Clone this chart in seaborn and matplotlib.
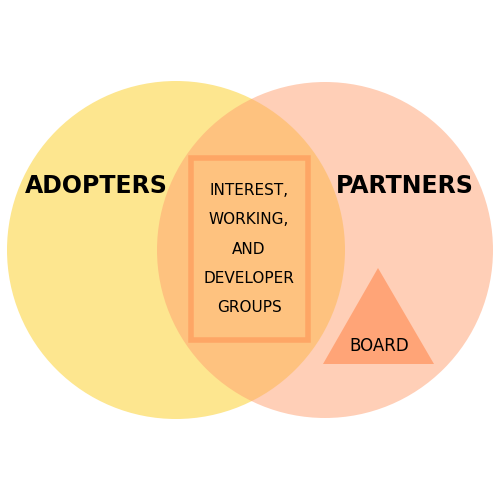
import matplotlib
matplotlib.use("Agg")
import matplotlib.pyplot as plt
import seaborn as sns
from matplotlib.patches import Circle, Rectangle, Polygon

sns.set_theme(style="white")
plt.rcParams['font.family'] = ['DejaVu Sans']

set_labels = ["ADOPTERS", "PARTNERS"]
overlap_label = "INTEREST,\nWORKING,\nAND\nDEVELOPER\nGROUPS"
inner_label = "BOARD"

fig = plt.figure(figsize=(5, 5), dpi=100)
ax = fig.add_axes([0, 0, 1, 1])
ax.set_xlim(0, 500); ax.set_ylim(500, 0); ax.axis('off')
fig.patch.set_facecolor('white')

ax.add_patch(Circle((176, 250), 169, facecolor='#fde68f', edgecolor='none', zorder=1))
ax.add_patch(Circle((325, 250), 168, facecolor='#ffa070', alpha=0.5, edgecolor='none', zorder=2))
ax.add_patch(Rectangle((191, 158), 117, 182, facecolor='none', edgecolor='#ff9f5f', lw=4, alpha=0.8, zorder=3))
ax.add_patch(Polygon([(378, 268), (323, 364), (434, 364)], facecolor='#ffa477', edgecolor='none', zorder=3))

ax.text(96, 186, set_labels[0], ha='center', va='center', fontsize=17, fontweight='bold', color='black', zorder=4)
ax.text(405, 186, set_labels[1], ha='center', va='center', fontsize=17, fontweight='bold', color='black', zorder=4)
ax.text(249, 249, overlap_label, ha='center', va='center', fontsize=11, color='black', linespacing=2.2, zorder=4)
ax.text(379, 346, inner_label, ha='center', va='center', fontsize=12, color='black', zorder=4)

fig.savefig("out.png", dpi=100)
